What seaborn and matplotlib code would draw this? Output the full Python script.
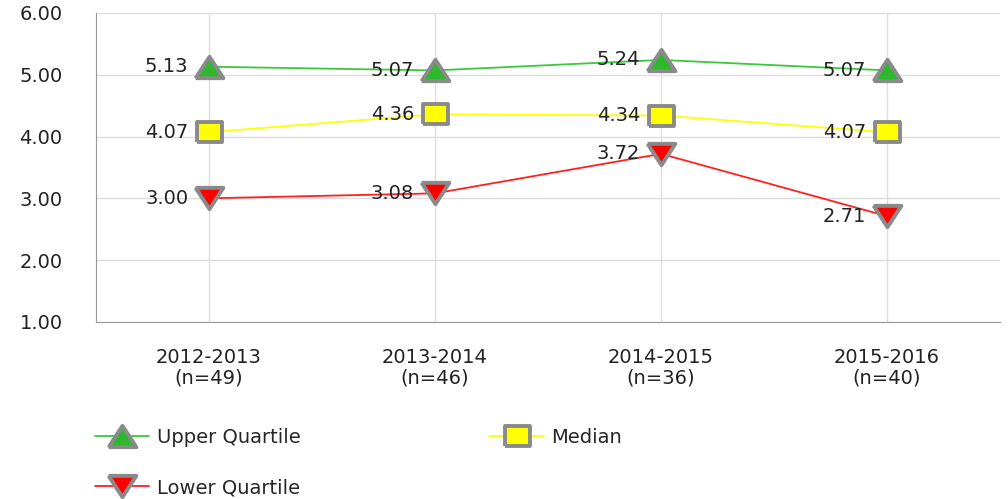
import numpy as np
import pandas as pd
import seaborn as sns
import matplotlib.pyplot as plt
from matplotlib.lines import Line2D

# data
years = ["2012-2013\n(n=49)", "2013-2014\n(n=46)", "2014-2015\n(n=36)", "2015-2016\n(n=40)"]
upper = [5.13, 5.07, 5.24, 5.07]
median = [4.07, 4.36, 4.34, 4.07]
lower = [3.00, 3.08, 3.72, 2.71]

series = ["Upper Quartile", "Median", "Lower Quartile"]
colors = {"Upper Quartile": "#3cc83c", "Median": "#ffff00", "Lower Quartile": "#ff2020"}
fills = {"Upper Quartile": "#2db82d", "Median": "#ffff00", "Lower Quartile": "#ff0000"}

# slightly wide markers, like the original
tri_up = [(-1.3, -1), (1.3, -1), (0, 1), (-1.3, -1)]
tri_dn = [(-1.3, 1), (1.3, 1), (0, -1), (-1.3, 1)]
square = [(-1.25, -1), (1.25, -1), (1.25, 1), (-1.25, 1), (-1.25, -1)]
markers = {"Upper Quartile": tri_up, "Median": square, "Lower Quartile": tri_dn}
msizes = {"Upper Quartile": 20, "Median": 18, "Lower Quartile": 20}

FS = 14
TXT = "#222222"

df = pd.DataFrame({"x": list(range(len(years))) * 3,
                   "value": upper + median + lower,
                   "series": [s for s in series for _ in years]})

sns.set_style("white")
plt.rcParams["font.family"] = ["DejaVu Sans"]

fig = plt.figure(figsize=(10.08, 4.99), dpi=100)
ax = fig.add_axes([0.0952, 0.355, 0.897, 0.619])

for s in series:
    d = df[df["series"] == s]
    sns.lineplot(data=d, x="x", y="value", ax=ax, color=colors[s], linewidth=1.3,
                 marker=markers[s], markersize=msizes[s], markerfacecolor=fills[s],
                 markeredgecolor="#8a8a8a", markeredgewidth=2.8, legend=False, zorder=3)
    for xi, v in zip(d["x"], d["value"]):
        ax.annotate(f"{v:.2f}", (xi, v), xytext=(-15, 0), textcoords="offset points",
                    ha="right", va="center", fontsize=FS, color=TXT)

ax.set_xlim(-0.5, 3.5)
ax.set_ylim(1, 6)
ax.set_yticks(np.arange(1, 7))
ax.set_yticklabels([f"{t:.2f}" for t in np.arange(1, 7)], fontsize=FS, color=TXT)
ax.set_xticks(range(len(years)))
ax.set_xticklabels(years, fontsize=FS, color=TXT, linespacing=1.1)
ax.set_xlabel("")
ax.set_ylabel("")
ax.grid(True, color="#dddddd", linewidth=1)
for sp in ["top", "right"]:
    ax.spines[sp].set_visible(False)
for sp in ["left", "bottom"]:
    ax.spines[sp].set_color("#999999")
ax.tick_params(axis="y", length=12, color="#999999", pad=12)
ax.tick_params(axis="x", length=8, color="#999999", pad=11)

handles = [Line2D([], [], color=colors[s], linewidth=1.3, marker=markers[s],
                  markersize=msizes[s], markerfacecolor=fills[s],
                  markeredgecolor="#8a8a8a", markeredgewidth=2.8) for s in series]
# column 1 holds Upper/Lower, column 2 holds Median
fig.legend([handles[0], handles[2], handles[1]], [series[0], series[2], series[1]],
           loc="upper left", bbox_to_anchor=(0.094, 0.142), ncol=2, frameon=False,
           fontsize=FS, handlelength=2.8, columnspacing=9.7, labelspacing=1.6,
           handletextpad=0.4, borderpad=0, borderaxespad=0)

fig.savefig("out.png", dpi=100)
